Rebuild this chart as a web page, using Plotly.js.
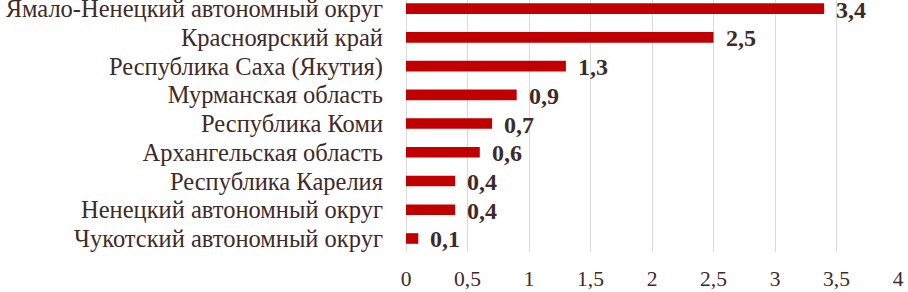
<!DOCTYPE html>
<html>
<head>
<meta charset="utf-8">
<script src="https://cdn.plot.ly/plotly-3.0.1.min.js"></script>
<style>html,body{margin:0;padding:0;background:#fff;}#chart{width:908px;height:292px;}</style>
</head>
<body>
<div id="chart"></div>
<script>
const categories = [
  "Ямало-Ненецкий автономный округ",
  "Красноярский край",
  "Республика Саха (Якутия)",
  "Мурманская область",
  "Республика Коми",
  "Архангельская область",
  "Республика Карелия",
  "Ненецкий автономный округ",
  "Чукотский автономный округ"
];
const values = [3.4, 2.5, 1.3, 0.9, 0.7, 0.6, 0.4, 0.4, 0.1];
const xTicks = [0, 0.5, 1, 1.5, 2, 2.5, 3, 3.5, 4];

const cats = categories.slice().reverse();
const vals = values.slice().reverse();
const textColor = "#3f2a2a";
const fontFam = "'Liberation Serif', 'Times New Roman', Times, serif";

const trace = {
  type: "bar",
  orientation: "h",
  y: cats,
  x: vals,
  marker: {color: "#c00000"},
  hoverinfo: "none"
};

const annotations = vals.map((v, i) => ({
  x: v, y: cats[i], xref: "x", yref: "y",
  text: "<b>" + String(v).replace(".", ",") + "</b>",
  showarrow: false, xanchor: "left", xshift: 10, yshift: -1,
  font: {family: fontFam, size: 24, color: textColor}
}));

const layout = {
  width: 908, height: 292,
  margin: {l: 406, r: 10, t: 0, b: 40},
  paper_bgcolor: "#fff", plot_bgcolor: "#fff",
  separators: ", ",
  bargap: 0.63,
  showlegend: false,
  font: {family: fontFam, size: 20, color: textColor},
  xaxis: {
    range: [0, 4], tickmode: "array", tickvals: xTicks,
    showgrid: true, gridcolor: "#d9d9d9", gridwidth: 1,
    zeroline: true, zerolinecolor: "#d9d9d9", zerolinewidth: 1,
    showline: false, ticks: "", ticklabelstandoff: 11,
    tickfont: {family: fontFam, size: 21.5, color: textColor},
    fixedrange: true
  },
  yaxis: {
    type: "category",
    range: [-0.47, 8.3],
    tickmode: "array", tickvals: cats, ticktext: cats,
    showgrid: false, zeroline: false, showline: false,
    ticks: "", ticklabelstandoff: 22,
    tickfont: {family: fontFam, size: 24.5, color: textColor},
    fixedrange: true
  },
  annotations: annotations
};

Plotly.newPlot("chart", [trace], layout, {displayModeBar: false, staticPlot: true});
</script>
</body>
</html>
